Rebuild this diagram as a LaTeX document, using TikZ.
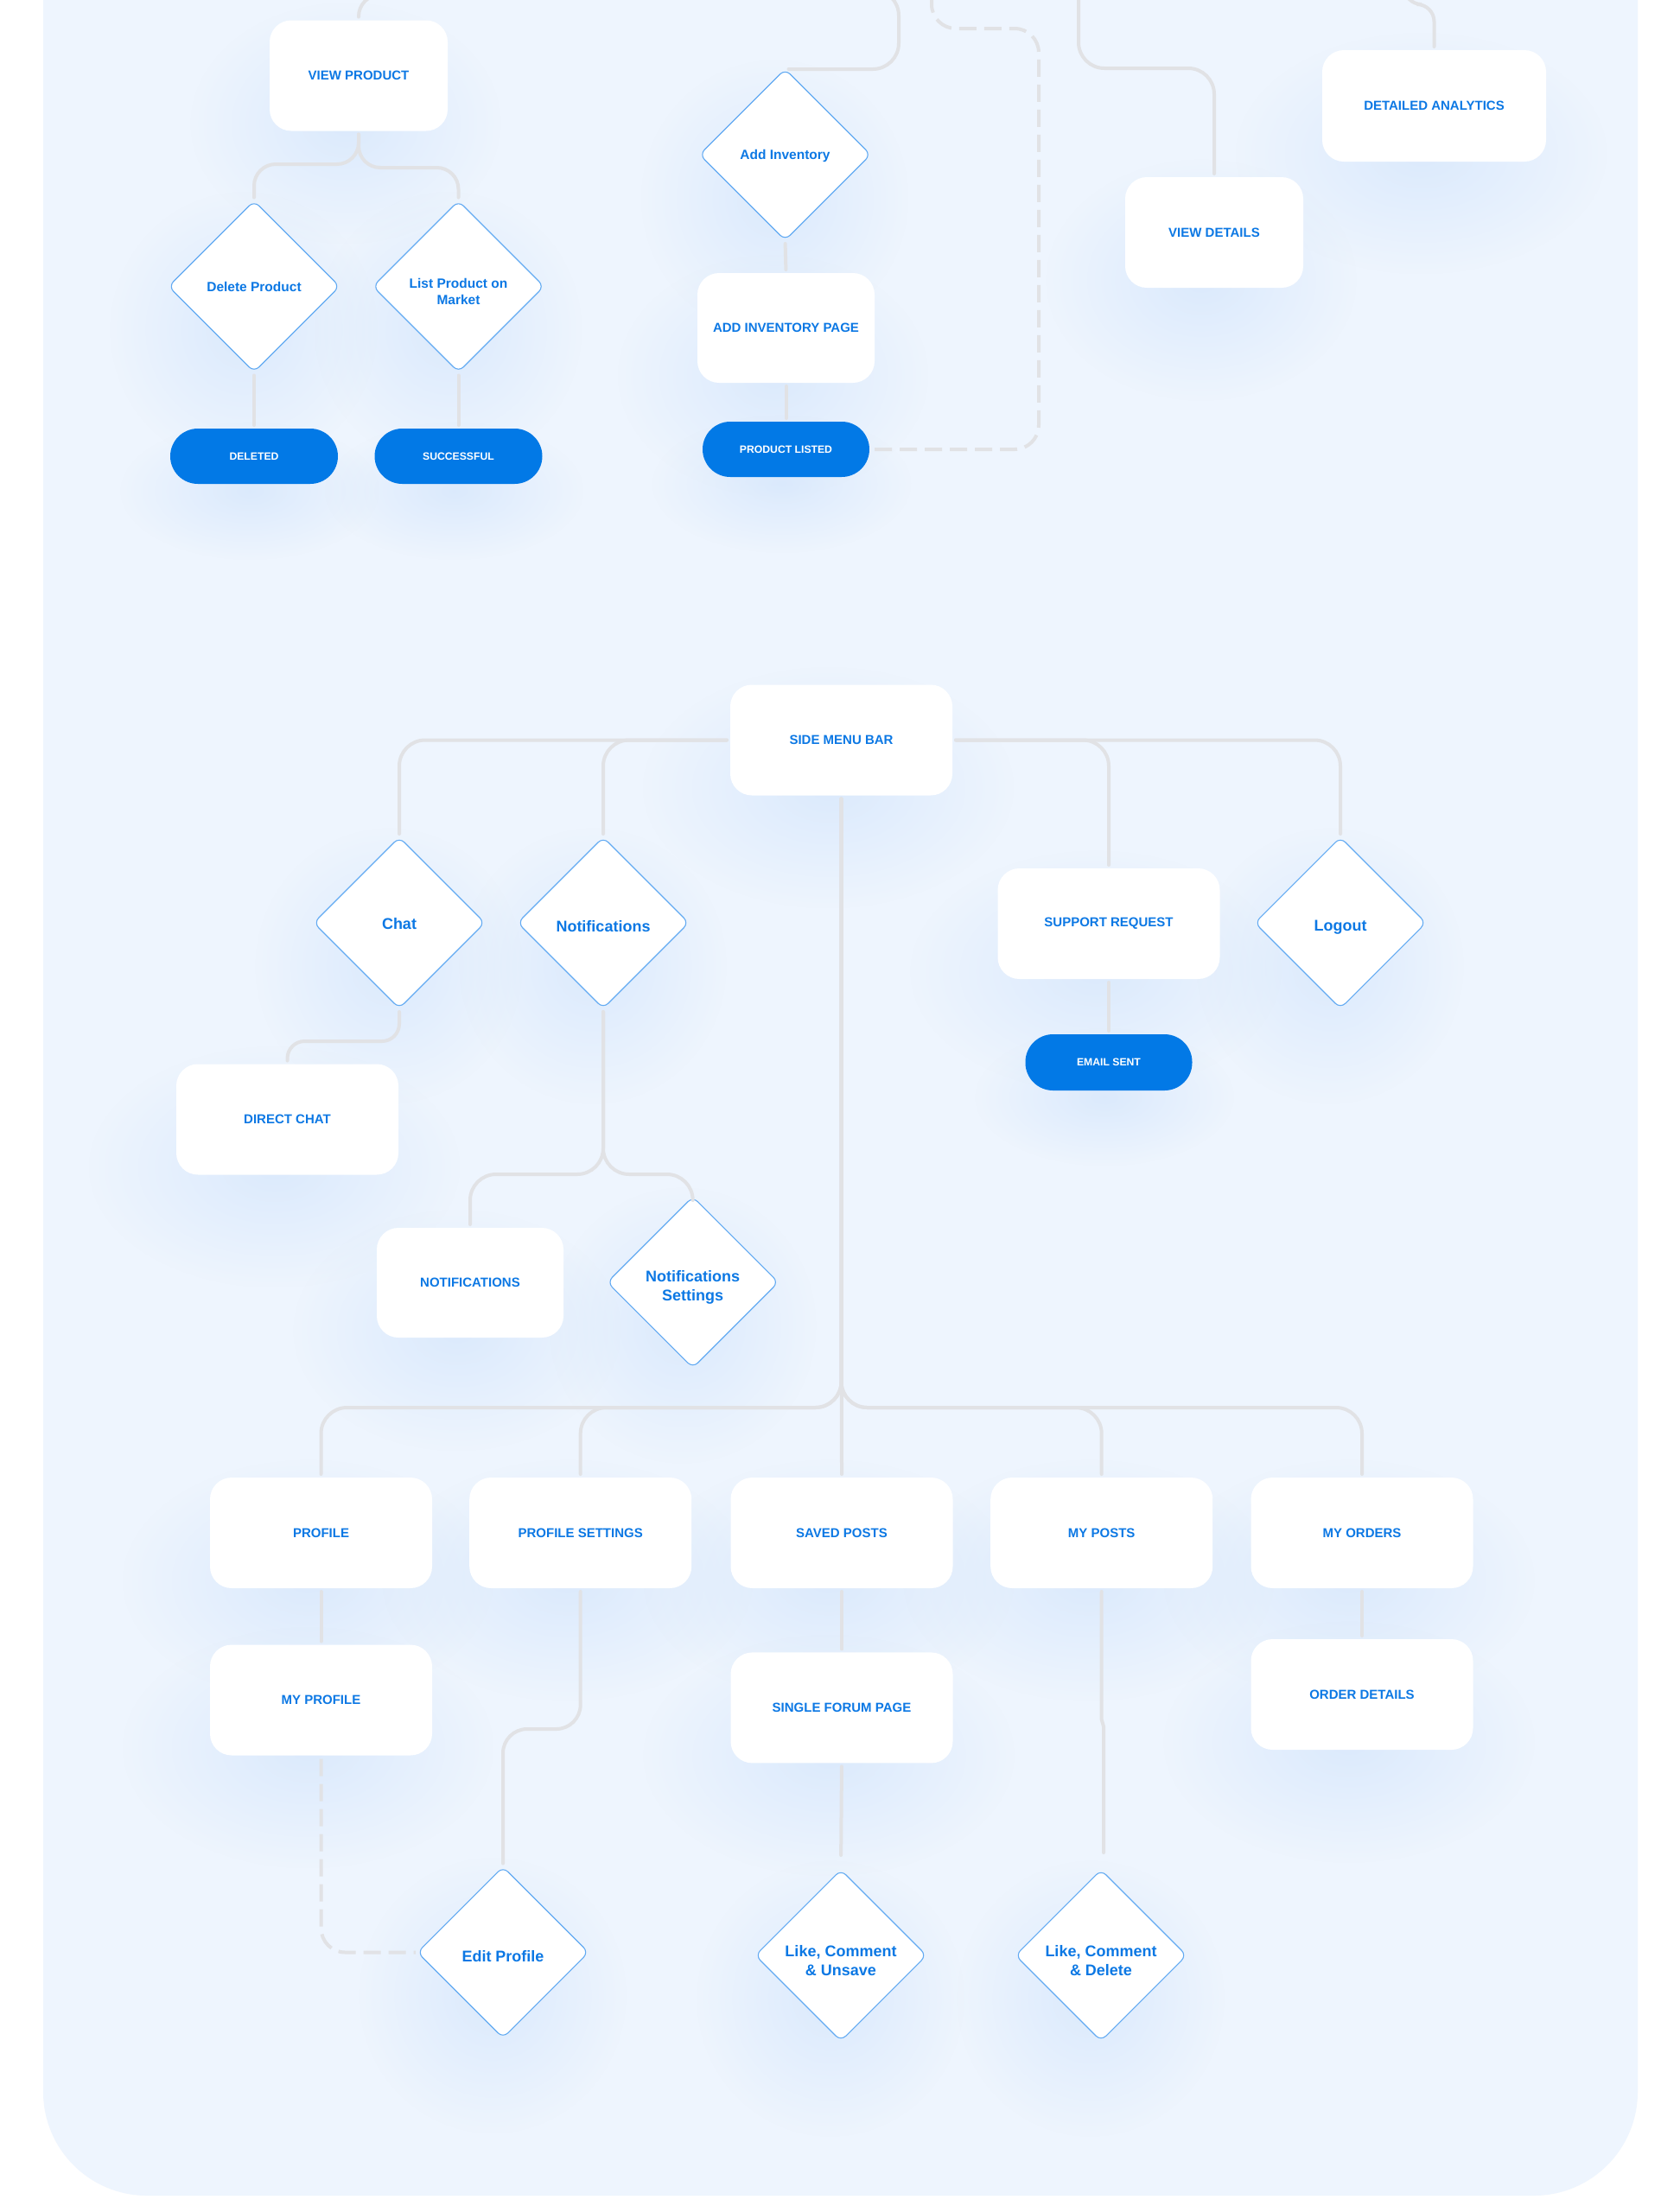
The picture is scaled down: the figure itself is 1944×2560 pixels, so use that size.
\documentclass[tikz,border=0pt]{standalone}
\usepackage{fontspec}
\setmainfont{Liberation Sans}
\usetikzlibrary{shapes.geometric,fadings}

\definecolor{bgc}{HTML}{EEF5FE}
\definecolor{txt}{HTML}{0C78E4}
\definecolor{pillc}{HTML}{0279E6}
\definecolor{linec}{HTML}{E1E2E5}
\definecolor{dstroke}{HTML}{62AAF2}
\definecolor{haloc}{HTML}{D3E5FC}

\tikzfading[name=halofade, inner color=transparent!30, outer color=transparent!100]
\pgfdeclarelayer{bglayer}
\pgfdeclarelayer{halolayer}
\pgfsetlayers{bglayer,halolayer,main}

\newcommand{\dnstrut}[1]{\rule{0pt}{#1}}

\begin{document}
\begin{tikzpicture}[x=1pt,y=-1pt,
  box/.style={rectangle, rounded corners=25pt, fill=white, minimum width=257pt, minimum height=128pt, inner sep=0pt, outer sep=0pt, text=txt, font=\fontsize{15}{18}\selectfont\bfseries},
  dia/.style={diamond, aspect=1, rounded corners=8pt, fill=white, draw=dstroke, line width=1.1pt, minimum width=198pt, minimum height=198pt, inner sep=0pt, outer sep=0pt, text=txt, align=center, font=\fontsize{15.5}{18.5}\selectfont\bfseries},
  bigdia/.style={dia, font=\fontsize{18}{21.5}\selectfont\bfseries},
  pill/.style={rectangle, rounded corners=32pt, fill=pillc, minimum width=194pt, minimum height=64pt, inner sep=0pt, outer sep=0pt, text=white, font=\fontsize{12.2}{14}\selectfont\bfseries},
  conn/.style={draw=linec, line width=4pt, line cap=round, shorten <=4pt, shorten >=4pt},
  dconn/.style={conn, line cap=butt, dash pattern=on 20pt off 9pt},
]
\useasboundingbox (0,0) rectangle (1944,2560);
\clip (0,0) rectangle (1944,2560);

% ---------- nodes: top section ----------
\node[box, minimum width=206pt] (vp) at (415,87.5) {VIEW PRODUCT};
\node[dia] (del) at (294,331.5) {Delete Product};
\node[dia] (lpm) at (530.5,331.5) {\dnstrut{23pt}List Product on\\Market};
\node[pill] (dltd) at (294,528) {DELETED};
\node[pill] (succ) at (530.5,528) {SUCCESSFUL};
\node[dia] (ai) at (908.5,179) {\dnstrut{14pt}Add Inventory};
\node[box, minimum width=205pt, minimum height=127pt] (aip) at (909.5,379.5) {ADD INVENTORY PAGE};
\node[pill, minimum width=193pt] (pl) at (909.5,520) {PRODUCT LISTED};
\node[box, minimum width=206pt] (vd) at (1405,269) {VIEW DETAILS};
\node[box, minimum width=259pt, minimum height=129pt] (da) at (1659.5,122.5) {DETAILED ANALYTICS};

% ---------- nodes: side menu ----------
\node[box] (smb) at (973.5,856.5) {SIDE MENU BAR};
\node[bigdia] (chat) at (462,1068) {\dnstrut{16pt}Chat};
\node[bigdia] (notif) at (698,1068) {\dnstrut{22pt}Notifications};
\node[box] (sr) at (1283,1069) {SUPPORT REQUEST};
\node[bigdia] (logout) at (1551,1068) {\dnstrut{22pt}Logout};
\node[pill, minimum width=193pt, minimum height=65pt] (email) at (1283,1229.5) {EMAIL SENT};
\node[box] (dc) at (332.5,1295.5) {DIRECT CHAT};
\node[box, minimum width=216pt, minimum height=127pt] (nb) at (544,1484.5) {NOTIFICATIONS};
\node[bigdia] (ns) at (801.7,1484) {\dnstrut{25pt}Notifications\\Settings};

\node[box] (pr) at (371.5,1774) {PROFILE};
\node[box] (pset) at (671.7,1774) {PROFILE SETTINGS};
\node[box] (sp) at (974,1774) {SAVED POSTS};
\node[box] (mp) at (1274.7,1774) {MY POSTS};
\node[box] (mo) at (1576,1774) {MY ORDERS};
\node[box] (myp) at (371.5,1967.5) {MY PROFILE};
\node[box] (sfp) at (974,1976.4) {SINGLE FORUM PAGE};
\node[box] (od) at (1576,1961) {ORDER DETAILS};
\node[bigdia] (edit) at (582,2259.5) {\dnstrut{22pt}Edit Profile};
\node[bigdia] (lcu) at (973,2263) {\dnstrut{25pt}Like, Comment\\\& Unsave};
\node[bigdia] (lcd) at (1274,2263) {\dnstrut{25pt}Like, Comment\\\& Delete};

% ---------- background and halos ----------
\begin{pgfonlayer}{bglayer}
  \fill[white] (0,0) rectangle (1944,2560);
  \fill[bgc, rounded corners=120pt] (50,-200) rectangle (1895,2541);
\end{pgfonlayer}
\begin{pgfonlayer}{halolayer}
  \foreach \n/\rx/\ry in {vp/180/140, aip/180/140, vd/180/140, da/215/140,
      smb/215/140, sr/215/140, dc/215/140, nb/190/140,
      pr/215/140, pset/215/140, sp/215/140, mp/215/140, mo/215/140,
      myp/215/140, sfp/215/140, od/215/140}
    \fill[haloc, path fading=halofade] ([shift={(-15,55)}]\n.center) ellipse [x radius=\rx, y radius=\ry];
  \foreach \n in {del, lpm, ai, chat, notif, logout, ns, edit, lcu, lcd}
    \fill[haloc, path fading=halofade] ([shift={(-12,50)}]\n.center) ellipse [x radius=155, y radius=160];
  \foreach \n in {dltd, succ, pl, email}
    \fill[haloc, path fading=halofade] ([shift={(-5,40)}]\n.center) ellipse [x radius=150, y radius=80];
\end{pgfonlayer}

% ---------- helper coordinates ----------
\coordinate (vpT) at (480,-6);
\coordinate (hVPL) at (0,190);
\coordinate (hVPR) at (0,194);
\coordinate (aiC) at (1040,-12);
\coordinate (aiT) at (990,-12);
\coordinate (dR) at (1202,33);
\coordinate (dT) at (1078,-30);
\coordinate (vdC) at (1248,79);
\coordinate (vdT) at (1248,-30);
\coordinate (daC) at (1625,5);
\coordinate (daT) at (1625,-30);
\coordinate (hC) at (0,1205);
\coordinate (hN) at (0,1359);
\coordinate (hT) at (0,1629);
\coordinate (hE) at (0,2001);
\coordinate (mpj) at (1277,0);

% ---------- connectors: top ----------
\draw[conn, rounded corners=25pt, shorten >=0pt] (vp.north) |- (vpT);
\draw[conn, rounded corners=25pt] (vp.south) |- (hVPL -| del.north) -- (del.north);
\draw[conn, rounded corners=25pt] (vp.south) |- (hVPR -| lpm.north) -- (lpm.north);
\draw[conn] (del.south) -- (dltd.north);
\draw[conn] (lpm.south) -- (succ.north);
\draw[conn, rounded corners=30pt, shorten >=0pt] (ai.north) -| (aiC) -- (aiT);
\draw[conn] (ai.south) -- (aip.north);
\draw[conn] (aip.south) -- (pl.north);
\draw[dconn, rounded corners=28pt, shorten <=6pt, shorten >=0pt] (pl.east) -| (dR) -| (dT);
\draw[conn, rounded corners=30pt, shorten >=0pt] (vd.north) |- (vdC) -- (vdT);
\draw[conn, rounded corners=20pt, shorten >=0pt] (da.north) |- (daC) -- (daT);

% ---------- connectors: side menu ----------
\draw[conn, rounded corners=30pt] (smb.west) -| (chat.north);
\draw[conn, rounded corners=30pt] (smb.west) -| (notif.north);
\draw[conn, rounded corners=30pt] (smb.east) -| (sr.north);
\draw[conn, rounded corners=30pt] (smb.east) -| (logout.north);
\draw[conn] (sr.south) -- (email.north);
\draw[conn, rounded corners=20pt] (chat.south) |- (hC -| dc.north) -- (dc.north);
\draw[conn, rounded corners=30pt] (notif.south) |- (hN -| nb.north) -- (nb.north);
\draw[conn, rounded corners=30pt] (notif.south) |- (hN -| ns.north) -- (ns.north);

\draw[conn] (smb.south) -- (sp.north);
\draw[conn, rounded corners=30pt] (smb.south) |- (hT -| pr.north) -- (pr.north);
\draw[conn, rounded corners=30pt] (smb.south) |- (hT -| pset.north) -- (pset.north);
\draw[conn, rounded corners=30pt] (smb.south) |- (hT -| mp.north) -- (mp.north);
\draw[conn, rounded corners=30pt] (smb.south) |- (hT -| mo.north) -- (mo.north);

\draw[conn] (pr.south) -- (myp.north);
\draw[dconn, rounded corners=28pt, shorten >=2pt] (myp.south) |- (edit.west);
\draw[conn, rounded corners=28pt] (pset.south) |- (hE -| edit.north) -- (edit.north);
\draw[conn] (sp.south) -- (sfp.north);
\draw[conn, shorten >=17pt] (sfp.south) -- (lcu.north);
\draw[conn, shorten >=20pt] (mp.south) -- ++(0,152) -- ++(2.3,8) -- (lcd.north -| mpj);
\draw[conn] (mo.south) -- (od.north);
\end{tikzpicture}
\end{document}
